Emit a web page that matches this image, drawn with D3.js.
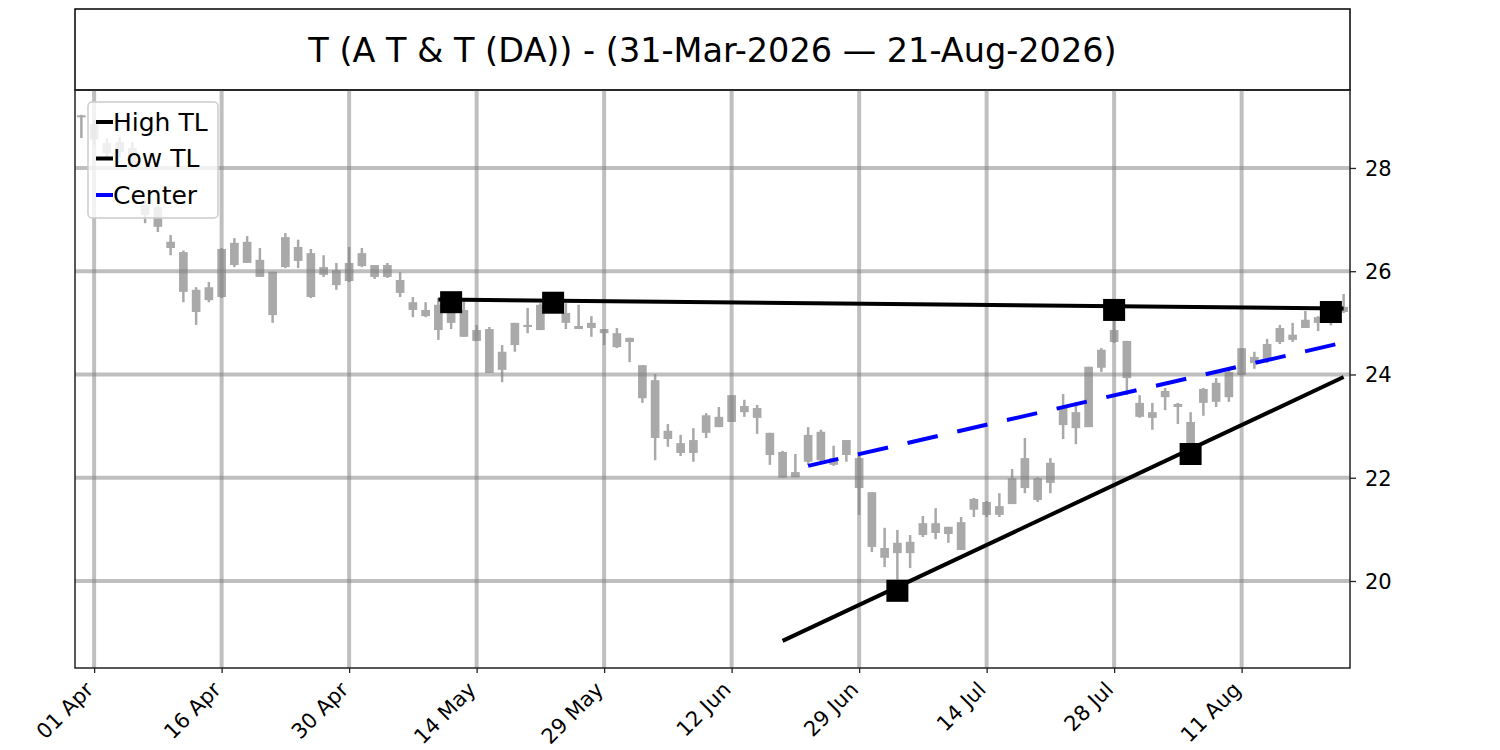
<!DOCTYPE html>
<html>
<head>
<meta charset="utf-8">
<script src="https://cdn.jsdelivr.net/npm/d3@7"></script>
<style>
  body { margin: 0; background: #fff; }
  svg { display: block; font-family: "DejaVu Sans", sans-serif; }
</style>
</head>
<body>
<svg id="chart"></svg>
<script>
// datos: una vela por dia habil, indice 0 = 31-Mar-2026
const opens  = [29.02,28.85,28.48,28.31,28.39,27.28,27.24,26.57,26.37,25.64,
                25.44,25.50,26.12,26.57,26.22,25.99,26.08,26.47,26.35,25.93,
                26.02,25.81,26.10,26.12,25.89,25.83,25.40,25.25,24.86,25.21,
                25.25,24.86,24.88,24.09,24.57,24.92,24.86,25.30,25.19,24.94,
                24.90,24.88,24.80,24.71,24.18,23.89,22.75,22.67,22.48,22.87,
                23.18,23.08,23.39,23.35,22.87,22.50,22.01,22.31,22.89,22.25,
                22.44,22.38,21.72,20.64,20.54,20.54,20.89,21.12,20.91,20.60,
                21.38,21.53,21.28,21.49,21.80,21.99,21.90,23.02,23.27,22.98,
                24.13,24.63,24.65,23.45,23.16,23.56,23.43,23.08,23.45,23.47,
                23.56,23.99,24.34,24.26,24.63,24.77,24.90,25.00,25.05,25.21];
const highs  = [29.03,28.93,28.58,28.60,28.50,27.38,27.28,26.70,26.40,25.69,
                25.79,26.45,26.64,26.68,26.45,25.99,26.74,26.61,26.43,26.31,
                26.16,26.47,26.45,26.12,26.16,25.98,25.50,25.40,25.48,25.40,
                25.45,24.96,24.92,24.57,25.00,25.29,25.38,25.39,25.38,25.35,
                25.13,24.88,24.90,24.71,24.18,24.01,23.04,22.83,22.96,23.25,
                23.37,23.60,23.51,23.41,22.87,22.52,22.46,22.98,22.93,22.62,
                22.73,22.44,21.72,21.03,20.99,20.89,21.26,21.41,21.05,21.24,
                21.61,21.55,21.70,22.17,22.77,22.01,22.38,23.62,23.47,24.15,
                24.51,25.25,24.65,23.60,23.45,23.74,23.45,23.27,23.74,23.93,
                24.09,24.51,24.44,24.69,24.96,25.00,25.23,25.13,25.21,25.56];
const lows   = [28.58,28.45,28.21,28.20,27.96,26.93,26.76,26.31,25.40,24.96,
                25.40,25.48,26.08,26.16,25.89,25.00,26.06,26.06,25.48,25.89,
                25.64,25.79,26.08,25.85,25.87,25.50,25.11,25.11,24.67,24.88,
                24.73,24.65,24.03,23.85,24.44,24.80,24.86,25.20,24.88,24.88,
                24.73,24.57,24.51,24.24,23.45,22.34,22.60,22.42,22.31,22.77,
                22.98,23.08,23.18,22.85,22.25,22.00,22.01,22.25,22.29,22.23,
                22.31,21.28,20.56,20.27,19.81,20.25,20.85,20.81,20.74,20.60,
                21.24,21.24,21.24,21.49,21.70,21.53,21.70,22.75,22.65,22.98,
                24.05,24.61,23.60,23.16,22.93,23.31,23.04,22.46,23.20,23.37,
                23.47,23.99,24.11,24.22,24.59,24.63,24.90,24.84,24.95,25.19];
const closes = [28.98,28.55,28.29,28.50,28.06,27.09,26.86,26.45,25.60,25.21,
                25.69,26.43,26.55,26.16,25.89,25.15,26.66,26.20,25.50,26.08,
                25.73,26.16,26.35,25.89,26.12,25.58,25.25,25.13,25.35,25.00,
                24.73,24.65,24.03,24.44,25.00,24.96,25.35,25.22,25.00,24.88,
                25.00,24.80,24.53,24.63,23.54,22.77,22.91,22.48,22.73,23.21,
                22.98,23.60,23.27,23.16,22.44,22.00,22.11,22.83,22.34,22.38,
                22.73,21.80,20.66,20.45,20.74,20.76,21.12,20.93,21.05,21.14,
                21.59,21.28,21.45,21.99,22.38,21.57,22.29,23.37,22.96,24.15,
                24.48,24.86,23.93,23.18,23.27,23.68,23.37,22.67,23.72,23.84,
                24.05,24.51,24.22,24.59,24.90,24.67,25.06,25.11,25.15,25.31];

// etiquetas del eje x (cada 10 dias habiles)
const tickIdx    = [1, 11, 21, 31, 41, 51, 61, 71, 81, 91];
const tickLabels = ["01 Apr","16 Apr","30 Apr","14 May","29 May","12 Jun","29 Jun","14 Jul","28 Jul","11 Aug"];
const yTicks     = [20, 22, 24, 26, 28];

// lineas de tendencia (extremos) y pivotes
const highTLIdx = [28, 99];  const highTLVal = [25.45, 25.28];
const lowTLIdx  = [55, 99];  const lowTLVal  = [18.84, 23.95];
const centerIdx = [57, 99];  const centerVal = [22.23, 24.62];
const highPivIdx = [29, 37, 81, 98]; const highPivVal = [25.40, 25.39, 25.25, 25.21];
const lowPivIdx  = [64, 87];         const lowPivVal  = [19.81, 22.46];

const title = "T (A T & T (DA)) - (31-Mar-2026 \u2014 21-Aug-2026)";

const WIDTH = 1500, HEIGHT = 750;
const margins = { top: 90, bottom: 82, left: 75, right: 150 };
const widthVis = WIDTH - margins.left - margins.right;
const heightVis = HEIGHT - margins.top - margins.bottom;

const svg = d3.select("#chart").attr("width", WIDTH).attr("height", HEIGHT);

const x = d3.scaleLinear().domain([-0.5, opens.length - 0.5]).range([0, widthVis]);
const y = d3.scaleLinear().domain([18.315, 29.51]).range([heightVis, 0]);

// caja del titulo
svg.append("rect")
    .attr("x", margins.left).attr("y", 9)
    .attr("width", widthVis).attr("height", margins.top - 9)
    .attr("fill", "none").attr("stroke", "#000").attr("stroke-width", 1.5);
svg.append("text")
    .attr("x", margins.left + widthVis / 2).attr("y", 50)
    .attr("text-anchor", "middle").attr("dominant-baseline", "central")
    .attr("font-size", 33.5).attr("fill", "#000")
    .text(title);

const g = svg.append("g").attr("transform", `translate(${margins.left},${margins.top})`);

const clip = g.append("clipPath").attr("id", "clip");
clip.append("rect").attr("width", widthVis).attr("height", heightVis);
const plot = g.append("g").attr("clip-path", "url(#clip)");

// velas
const velas = d3.range(opens.length).map(i => ({ i, o: opens[i], h: highs[i], l: lows[i], c: closes[i] }));
const bw = x(0.34) - x(-0.34);
const candles = plot.append("g");
candles.selectAll("line")
    .data(velas)
    .join("line")
    .attr("x1", d => x(d.i)).attr("x2", d => x(d.i))
    .attr("y1", d => y(d.h)).attr("y2", d => y(d.l))
    .attr("stroke", "#a9a9a9").attr("stroke-width", 2.5);
candles.selectAll("rect")
    .data(velas)
    .join("rect")
    .attr("x", d => x(d.i) - bw / 2)
    .attr("y", d => y(Math.max(d.o, d.c)))
    .attr("width", bw)
    .attr("height", d => Math.max(1.5, y(Math.min(d.o, d.c)) - y(Math.max(d.o, d.c))))
    .attr("fill", "#a9a9a9");

// grilla encima de las velas (semi transparente)
const grid = plot.append("g").attr("stroke", "gray").attr("stroke-opacity", 0.5).attr("stroke-width", 4);
grid.selectAll(".gx").data(tickIdx).join("line")
    .attr("class", "gx")
    .attr("x1", d => x(d)).attr("x2", d => x(d)).attr("y1", 0).attr("y2", heightVis);
grid.selectAll(".gy").data(yTicks).join("line")
    .attr("class", "gy")
    .attr("x1", 0).attr("x2", widthVis).attr("y1", d => y(d)).attr("y2", d => y(d));

// lineas de tendencia
const linea = d3.line().x(d => x(d[0])).y(d => y(d[1]));
plot.append("path")
    .attr("d", linea(d3.zip(centerIdx, centerVal)))
    .attr("fill", "none").attr("stroke", "#0000ff").attr("stroke-width", 4)
    .attr("stroke-dasharray", "31,20");
plot.append("path")
    .attr("d", linea(d3.zip(highTLIdx, highTLVal)))
    .attr("fill", "none").attr("stroke", "#000").attr("stroke-width", 4);
plot.append("path")
    .attr("d", linea(d3.zip(lowTLIdx, lowTLVal)))
    .attr("fill", "none").attr("stroke", "#000").attr("stroke-width", 4);

// pivotes
const ms = 22;
const pivotes = d3.zip(highPivIdx, highPivVal).concat(d3.zip(lowPivIdx, lowPivVal));
plot.selectAll(".piv").data(pivotes).join("rect")
    .attr("class", "piv")
    .attr("x", d => x(d[0]) - ms / 2).attr("y", d => y(d[1]) - ms / 2)
    .attr("width", ms).attr("height", ms).attr("fill", "#000");

// ejes
const ejeX = d3.axisBottom(x).tickValues(tickIdx).tickFormat((d, k) => tickLabels[k]).tickSize(5).tickSizeOuter(0);
const gx = g.append("g").attr("transform", `translate(0,${heightVis})`).call(ejeX);
gx.select(".domain").remove();
gx.selectAll(".tick line").attr("stroke", "#222").attr("stroke-width", 1.3);
gx.selectAll(".tick text")
    .attr("font-size", 21).attr("font-family", "DejaVu Sans").attr("fill", "#000")
    .attr("text-anchor", "end").attr("dominant-baseline", "central")
    .attr("y", 0).attr("dy", 0)
    .attr("transform", "translate(-5,18) rotate(-45)");

const ejeY = d3.axisRight(y).tickValues(yTicks).tickFormat(d3.format("d")).tickSize(6).tickSizeOuter(0);
const gy = g.append("g").attr("transform", `translate(${widthVis},0)`).call(ejeY);
gy.select(".domain").remove();
gy.selectAll(".tick line").attr("stroke", "#222").attr("stroke-width", 1.3);
gy.selectAll(".tick text")
    .attr("font-size", 21).attr("font-family", "DejaVu Sans").attr("fill", "#000")
    .attr("x", 15).attr("dy", "0.35em");

// marco de los ejes
g.append("rect").attr("width", widthVis).attr("height", heightVis)
    .attr("fill", "none").attr("stroke", "#222").attr("stroke-width", 1.5);

// leyenda
const leyenda = [
    { label: "High TL", color: "#000" },
    { label: "Low TL", color: "#000" },
    { label: "Center", color: "#0000ff" }
];
const lg = g.append("g").attr("transform", "translate(13,12)");
lg.append("rect")
    .attr("width", 130).attr("height", 116).attr("rx", 4)
    .attr("fill", "#fff").attr("fill-opacity", 0.8)
    .attr("stroke", "#cccccc").attr("stroke-width", 1.5);
const items = lg.selectAll(".item").data(leyenda).join("g")
    .attr("class", "item")
    .attr("transform", (d, k) => `translate(0,${20 + k * 36.5})`);
items.append("line")
    .attr("x1", 8).attr("x2", 25).attr("y1", 0).attr("y2", 0)
    .attr("stroke", d => d.color).attr("stroke-width", 4);
items.append("text")
    .attr("x", 25).attr("y", 0).attr("dominant-baseline", "central")
    .attr("font-size", 25).attr("fill", "#000")
    .text(d => d.label);
</script>
</body>
</html>
